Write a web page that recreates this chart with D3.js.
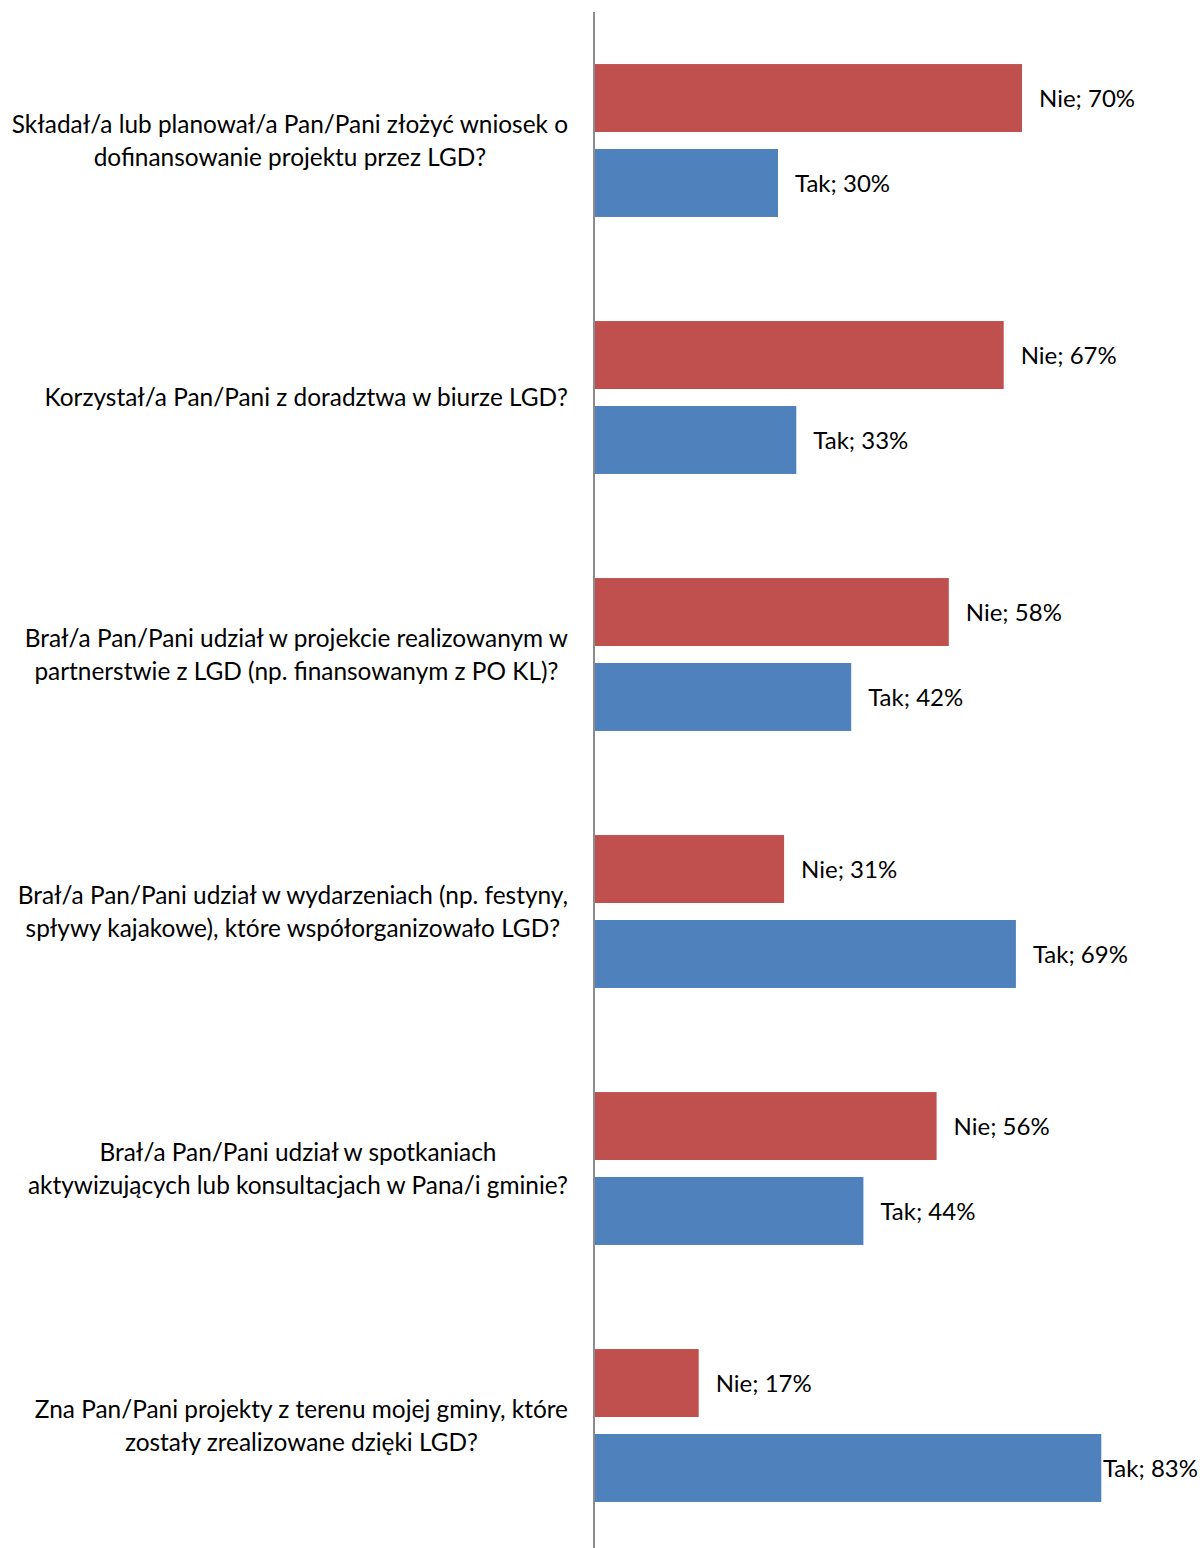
<!DOCTYPE html>
<html>
<head>
<meta charset="utf-8">
<script src="https://cdn.jsdelivr.net/npm/d3@7"></script>
<style>
  html, body { margin: 0; padding: 0; background: #fff; }
  svg { display: block; }
  text { font-family: Lato, "Open Sans", sans-serif; fill: #000; }
</style>
</head>
<body>
<svg id="chart" width="1200" height="1548"></svg>
<script>
const categories = [
  "Składał/a lub planował/a Pan/Pani złożyć wniosek o\ndofinansowanie projektu przez LGD?",
  "Korzystał/a Pan/Pani z doradztwa w biurze LGD?",
  "Brał/a Pan/Pani udział w projekcie realizowanym w\npartnerstwie z LGD (np. finansowanym z PO KL)?",
  "Brał/a Pan/Pani udział w wydarzeniach (np. festyny,\nspływy kajakowe), które współorganizowało LGD?",
  "Brał/a Pan/Pani udział w spotkaniach\naktywizujących lub konsultacjach w Pana/i gminie?",
  "Zna Pan/Pani projekty z terenu mojej gminy, które\nzostały zrealizowane dzięki LGD?"
];
const seriesNames = ["Nie", "Tak"];
const nieValues = [70, 67, 58, 31, 56, 17];
const takValues = [30, 33, 42, 69, 44, 83];
const seriesColors = ["#C0504D", "#4F81BD"];

const svg = d3.select("#chart");
const W = 1200, H = 1548;
const x0 = 595;

const x = d3.scaleLinear().domain([0, 100]).range([x0, 1205]);
const y = d3.scaleBand().domain(categories).range([12, 1554]).paddingInner(0.405).paddingOuter(0.2025);
const ySub = d3.scaleBand().domain(seriesNames).range([0, y.bandwidth()]).paddingInner(0.2).paddingOuter(0);

const data = categories.map((c, i) => ({
  cat: c,
  values: [
    { s: "Nie", v: nieValues[i], color: seriesColors[0] },
    { s: "Tak", v: takValues[i], color: seriesColors[1] }
  ]
}));

const groups = svg.selectAll("g.cat").data(data).join("g")
  .attr("class", "cat")
  .attr("transform", d => `translate(0,${y(d.cat)})`);

groups.selectAll("rect").data(d => d.values).join("rect")
  .attr("x", x(0))
  .attr("y", d => ySub(d.s))
  .attr("width", d => x(d.v) - x(0))
  .attr("height", ySub.bandwidth())
  .attr("fill", d => d.color);

groups.selectAll("text.lbl").data(d => d.values).join("text")
  .attr("class", "lbl")
  .attr("y", d => ySub(d.s) + ySub.bandwidth() / 2 + 1)
  .attr("dy", "0.35em")
  .attr("font-size", 24)
  .text(d => `${d.s}; ${d.v}%`)
  .each(function(d) {
    const w = this.getComputedTextLength();
    const xx = Math.min(x(d.v) + 17, W - 2 - w);
    d3.select(this).attr("x", xx);
  });

// category labels: block right-aligned at 568, lines centered within block
const lineH = 33;
const labelRight = 568;
svg.selectAll("text.catlbl").data(categories).join("text")
  .attr("class", "catlbl")
  .attr("text-anchor", "middle")
  .attr("font-size", 24.4)
  .each(function(c) {
    const lines = c.split("\n");
    const cy = y(c) + y.bandwidth() / 2;
    const t = d3.select(this);
    const spans = lines.map((ln, i) =>
      t.append("tspan")
        .attr("y", cy + (i - (lines.length - 1) / 2) * lineH)
        .attr("dy", "0.35em")
        .text(ln)
    );
    const maxW = d3.max(spans, s => s.node().getComputedTextLength());
    spans.forEach(s => s.attr("x", labelRight - maxW / 2));
  });

// vertical axis line
svg.append("line")
  .attr("x1", 594).attr("x2", 594)
  .attr("y1", 12).attr("y2", H)
  .attr("stroke", "#8c8c8c")
  .attr("stroke-width", 2);
</script>
</body>
</html>
